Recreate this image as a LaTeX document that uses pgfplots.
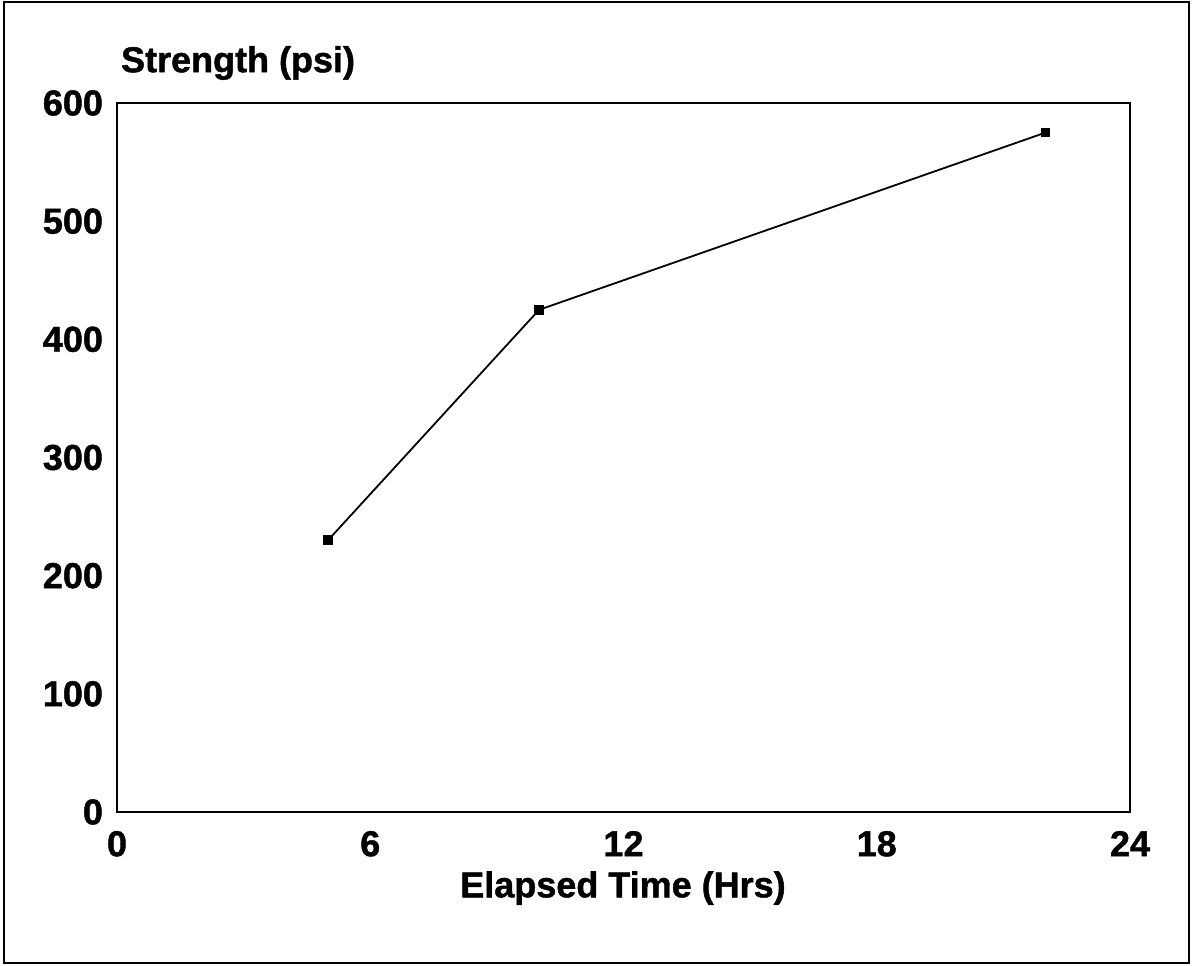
\documentclass[border=0pt]{standalone}
\usepackage{fontspec}
\setmainfont{Liberation Sans}[BoldFeatures={FakeBold=1.2}]
\usepackage{pgfplots}
\pgfplotsset{compat=1.18}
\begin{document}
\begin{tikzpicture}
\path[use as bounding box] (0,0) rectangle (596.5pt,482.5pt);
\draw[line width=1pt] (2pt,1pt) rectangle (594.5pt,481.5pt);
\begin{axis}[
  at={(58.5pt,76.5pt)}, anchor=origin,
  scale only axis, width=506.5pt, height=354.5pt,
  xmin=0, xmax=24, ymin=0, ymax=600,
  xtick={0,6,12,18,24}, ytick={0,100,200,300,400,500,600},
  major tick length=0pt,
  axis line style={line width=1pt},
  /pgf/number format/assume math mode=true,
  ticklabel style={font=\fontsize{18}{20}\selectfont\bfseries},
  yticklabel style={xshift=-3.5pt},
  xticklabel style={yshift=-6pt},
  clip=false,
]
\addplot[black, line width=0.9pt, mark=square*, mark size=2pt] coordinates {
  (5,230) (10,425) (22,575)
};
\end{axis}
\node[anchor=west, font=\fontsize{18}{20}\selectfont\bfseries] at (57pt,451pt) {Strength (psi)};
\node[font=\fontsize{18}{20}\selectfont\bfseries] at (311.5pt,38.5pt) {Elapsed Time (Hrs)};
\end{tikzpicture}
\end{document}
